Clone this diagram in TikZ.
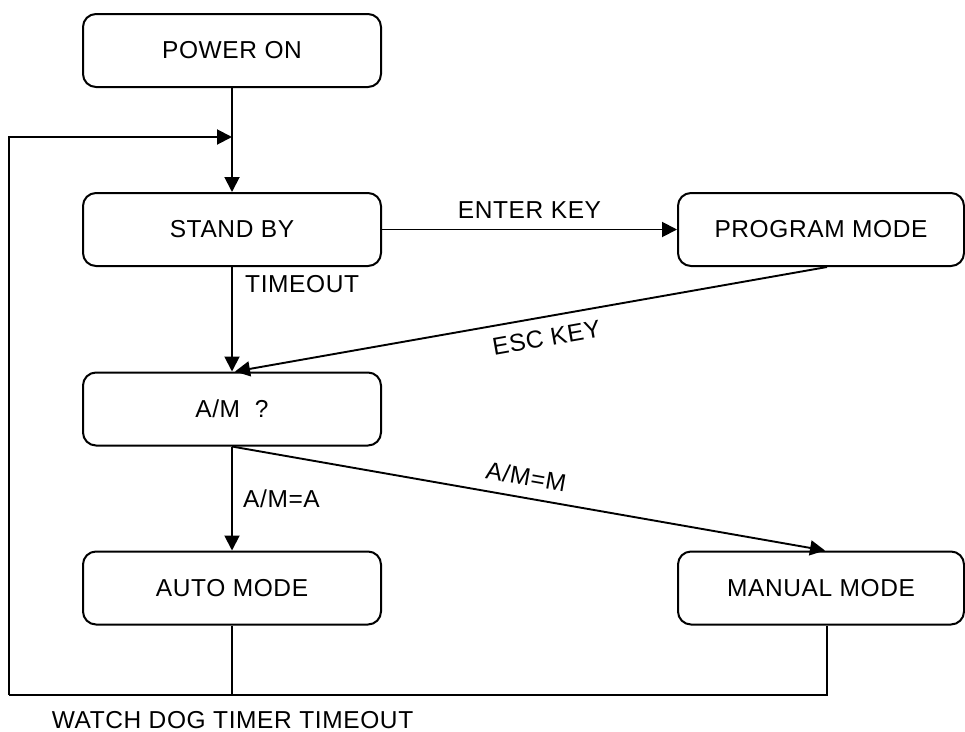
\documentclass[tikz,border=0pt]{standalone}
\usepackage{fontspec}
\setmainfont{Liberation Sans}[LetterSpace=2.5]
\usetikzlibrary{arrows.meta,calc}
\newcommand{\flowfont}{\fontsize{24.5}{29}\selectfont}
\begin{document}
\begin{tikzpicture}[x=1pt,y=-1pt,
  state/.style={draw, line width=2pt, rounded corners=13pt,
    minimum width=298pt, minimum height=73pt, inner sep=0pt, font=\flowfont},
  widestate/.style={state, minimum width=286pt},
  tip/.style={-{Triangle[length=15pt,width=15pt]}},
  flow/.style={line width=1.9pt, tip},
  drop/.style={line width=1.3pt},
  loopline/.style={line width=2pt},
  lbl/.style={inner sep=0pt, font=\flowfont}]
\useasboundingbox (0,0) rectangle (965,731);

% states
\node[state]     (power)   at (232,50.5)  {POWER ON};
\node[state]     (standby) at (232,229.5) {STAND BY};
\node[widestate] (prog)    at (821,229.5) {PROGRAM MODE};
\node[state]     (am)      at (232,409)   {A/M\ \ ?};
\node[state]     (auto)    at (232,588)   {AUTO MODE};
\node[widestate] (manual)  at (821,588)   {MANUAL MODE};

% watchdog return path
\coordinate (corner) at (9,695);
\coordinate (join)   at (232,137);
\coordinate (mdrop)  at ($(manual.south)+(6,0)$);

\draw[flow] (power) -- (standby);
\draw[loopline] (mdrop) |- (corner);
\draw[loopline, tip] (corner) |- (join);
\draw[drop] (auto.south) -- (auto.south |- corner);

% transitions
\draw[flow] (standby) -- node[lbl, above=10pt] (enterlbl) {ENTER KEY} (prog);
\draw[flow] (standby) -- (am);
\draw[flow] ($(prog.south)+(6,0)$) -- node[lbl, sloped, pos=0.48, below=11pt] (esclbl) {ESC KEY} ($(am.north)+(3,0)$);
\draw[flow] (am) -- (auto);
\draw[flow] (am.south) -- node[lbl, sloped, pos=0.49, above=11pt] (mlbl) {A/M=M} ($(manual.north)+(4,0)$);

% labels
\node[lbl, anchor=base west] (tolbl) at (245,292) {TIMEOUT};
\node[lbl, anchor=base west] (albl)  at (243,507) {A/M=A};
\node[lbl, anchor=base] (wdtlbl) at (232.5,728.3) {WATCH DOG TIMER TIMEOUT};
\end{tikzpicture}
\end{document}
